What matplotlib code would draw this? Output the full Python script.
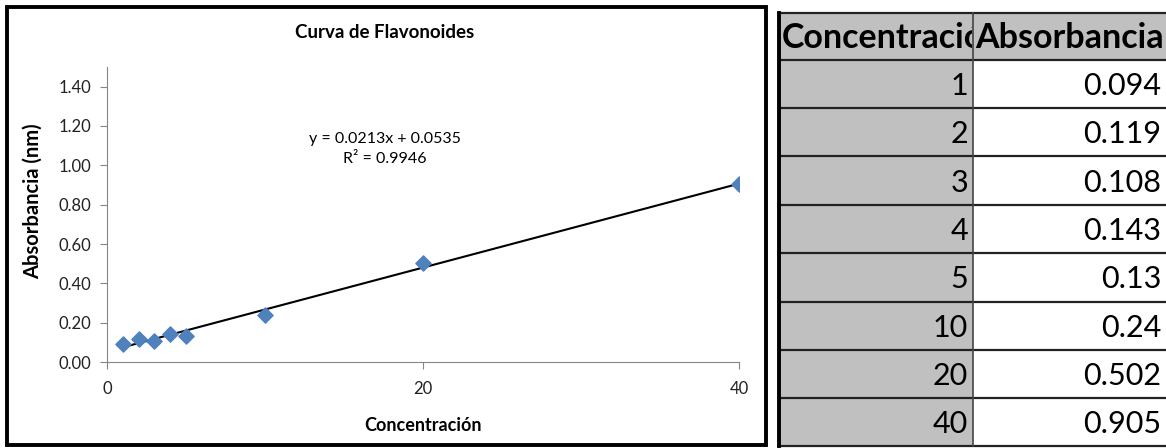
import numpy as np
import matplotlib.pyplot as plt
from matplotlib.patches import Rectangle
from matplotlib.transforms import Bbox, TransformedBbox

plt.rcParams['font.family'] = ['Lato', 'DejaVu Sans']

# datos
concentracion = [1, 2, 3, 4, 5, 10, 20, 40]
absorbancia = [0.094, 0.119, 0.108, 0.143, 0.13, 0.24, 0.502, 0.905]
abs_texto = ['0.094', '0.119', '0.108', '0.143', '0.13', '0.24', '0.502', '0.905']
encabezados = ['Concentración', 'Absorbancia']

W, H = 1166, 448
fig = plt.figure(figsize=(W / 100, H / 100), dpi=100)

# capa de fondo en pixeles (borde del grafico + tabla)
bg = fig.add_axes([0, 0, 1, 1])
bg.set_xlim(0, W)
bg.set_ylim(H, 0)
bg.axis('off')
bg.add_patch(Rectangle((7, 7), 759, 438, fill=False, ec='black', lw=2.8))

# tabla
x0, xm, x1 = 779, 973, 1170
filas_y = [13, 60, 108, 156, 205, 253, 302, 350, 398, 446]
gris = '#C0C0C0'
bg.add_patch(Rectangle((x0, filas_y[0]), x1 - x0, filas_y[1] - filas_y[0], fc=gris, ec='none'))
bg.add_patch(Rectangle((x0, filas_y[1]), xm - x0, filas_y[-1] - filas_y[1], fc=gris, ec='none'))
for y in filas_y:
    bg.plot([x0, x1], [y, y], color='#222222', lw=1.6)
bg.plot([x0, x0], [filas_y[0], filas_y[-1]], color='black', lw=2.8)
bg.plot([xm, xm], [filas_y[0], filas_y[-1]], color='#444444', lw=1.2)

# encabezado: el primero queda cortado por la celda vecina, como en Excel
yc = (filas_y[0] + filas_y[1]) / 2
t = bg.text(x0 + 3, yc + 2, encabezados[0], fontsize=24.5, fontweight='bold', va='center', ha='left')
caja = TransformedBbox(Bbox([[x0, filas_y[0]], [xm - 1, filas_y[1]]]), bg.transData)
t.set_clip_box(caja)
t.set_clip_on(True)
bg.text(xm + 2, yc + 2, encabezados[1], fontsize=24.5, fontweight='bold', va='center', ha='left')
for i in range(len(concentracion)):
    yc = (filas_y[i + 1] + filas_y[i + 2]) / 2 + 2
    bg.text(xm - 5, yc, str(concentracion[i]), fontsize=22, va='center', ha='right')
    bg.text(x1 - 9, yc, abs_texto[i], fontsize=22, va='center', ha='right')

# grafico
ax = fig.add_axes([107 / W, 1 - 362 / H, (739 - 107) / W, (362 - 67) / H])
ax.scatter(concentracion, absorbancia, marker='D', s=60, color='#4F81BD', zorder=3)
m, b = np.polyfit(concentracion, absorbancia, 1)
xs = np.array([min(concentracion), max(concentracion)])
ax.plot(xs, m * xs + b, color='black', lw=1.5, zorder=2)
r2 = np.corrcoef(concentracion, absorbancia)[0, 1] ** 2
ax.text(17.6, 1.085, f'y = {m:.4f}x + {b:.4f}\nR² = {r2:.4f}', ha='center', va='center',
        fontsize=11.5, linespacing=1.55)

ax.set_xlim(0, 40)
ax.set_ylim(0, 1.5)
ax.set_xticks([0, 20, 40])
ax.set_yticks(np.arange(0, 1.41, 0.2))
ax.set_yticklabels([f'{v:.2f}' for v in np.arange(0, 1.41, 0.2)])
for s in ['top', 'right']:
    ax.spines[s].set_visible(False)
for s in ['left', 'bottom']:
    ax.spines[s].set_color('#868686')
ax.tick_params(colors='#868686', labelcolor='#222222', labelsize=12, length=5)
ax.tick_params(axis='y', pad=6)
ax.tick_params(axis='x', pad=9)
ax.set_xlabel('Concentración', fontsize=13, fontweight='bold', labelpad=14)
ax.set_ylabel('Absorbancia (nm)', fontsize=14.5, fontweight='bold')
ax.yaxis.set_label_coords(-0.101, 0.545)
fig.text(385 / W, 1 - 33 / H, 'Curva de Flavonoides', fontsize=13.5, fontweight='bold',
         ha='center', va='center')

fig.savefig('out.png', dpi=100)
